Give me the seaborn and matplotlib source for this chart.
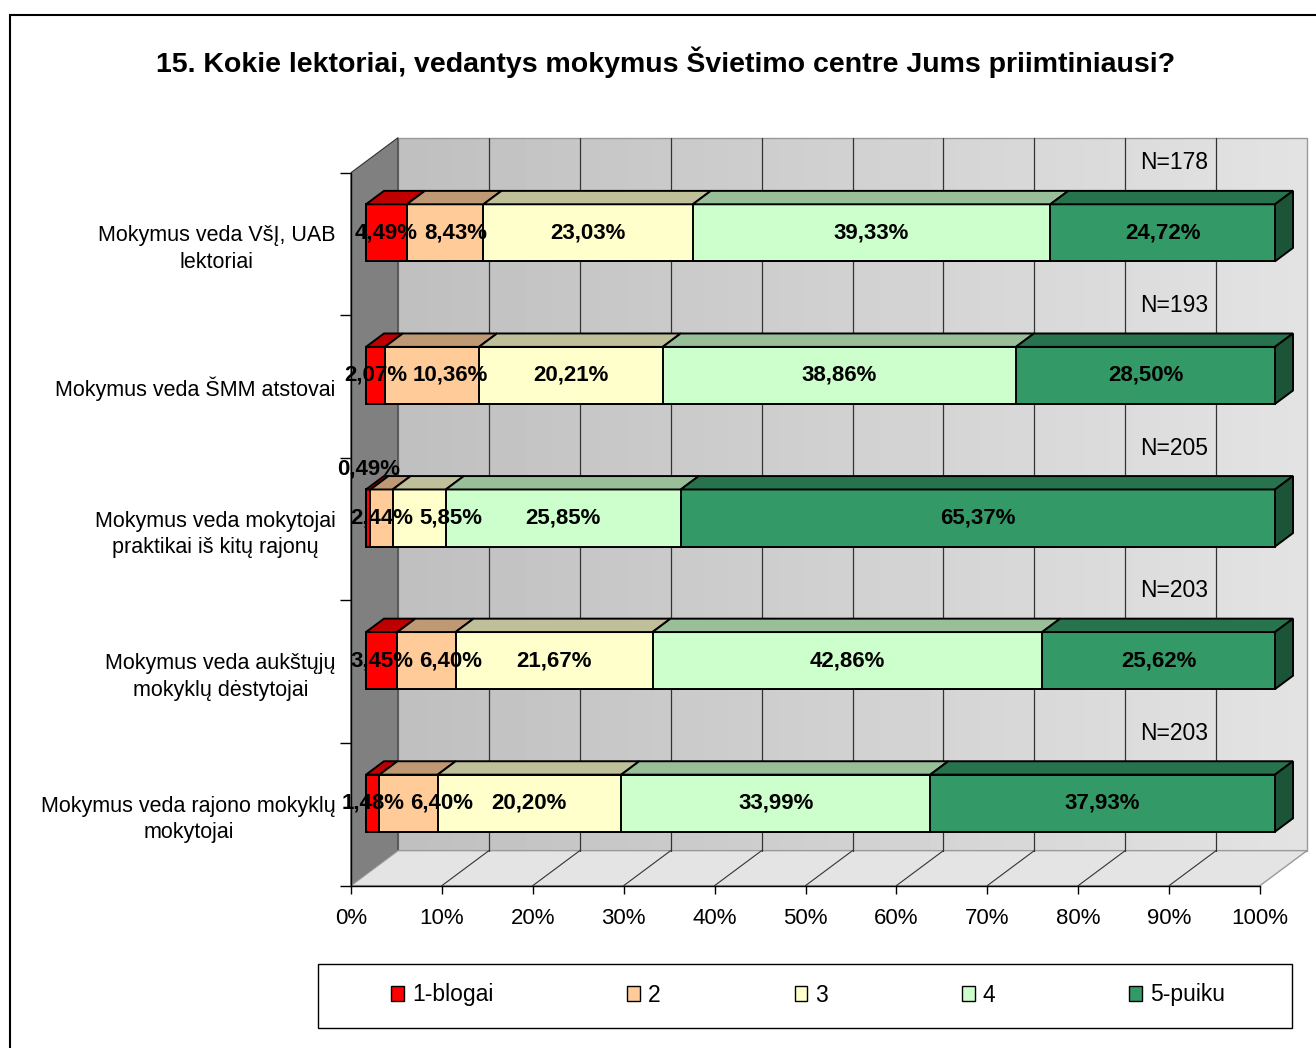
import numpy as np
import matplotlib
matplotlib.use('Agg')
import matplotlib.pyplot as plt
from matplotlib.patches import Polygon, Rectangle, Patch
import matplotlib.colors as mcolors
import seaborn as sns

categories = ['Mokymus veda VšĮ, UAB\nlektoriai',
              'Mokymus veda ŠMM atstovai',
              'Mokymus veda mokytojai\npraktikai iš kitų rajonų',
              'Mokymus veda aukštųjų\nmokyklų dėstytojai',
              'Mokymus veda rajono mokyklų\nmokytojai']
n_counts = [178, 193, 205, 203, 203]
levels = ['1-blogai', '2', '3', '4', '5-puiku']
v1 = [4.49, 2.07, 0.49, 3.45, 1.48]
v2 = [8.43, 10.36, 2.44, 6.40, 6.40]
v3 = [23.03, 20.21, 5.85, 21.67, 20.20]
v4 = [39.33, 38.86, 25.85, 42.86, 33.99]
v5 = [24.72, 28.50, 65.37, 25.62, 37.93]
colors = ['#ff0000', '#ffcc99', '#ffffcc', '#ccffcc', '#339966']
xticks = list(range(0, 101, 10))
title = '15. Kokie lektoriai, vedantys mokymus Švietimo centre Jums priimtiniausi?'

sns.set_style('white')
plt.rcParams['font.family'] = ['Liberation Sans', 'DejaVu Sans']
for key in ['text.color', 'axes.labelcolor', 'xtick.color', 'ytick.color']:
    plt.rcParams[key] = 'black'

# fake 3d: depth d goes 0 (front) .. 1 (back wall), bars sit between D0 and D1
DX, DY = 5.17, -0.2454
D0, D1 = 0.319, 0.702
BH = 0.4


def P(x, y, d):
    return (x + (d - D0) * DX, y + (d - D0) * DY)


def shade(c, f):
    r, g, b = mcolors.to_rgb(c)
    return (r * f, g * f, b * f)


vals = np.array([v1, v2, v3, v4, v5]).T
cum = vals.cumsum(axis=1)
left = cum - vals
n = len(categories)

fig = plt.figure(figsize=(13.16, 10.48), dpi=100)
ax = fig.add_axes([330 / 1316, 1 - 895 / 1048, 986 / 1316, 770 / 1048])
ax.patch.set_visible(False)

# back wall with gradient
bx0, by0 = P(0, -0.5, 1)
bx1, by1 = P(100, n - 0.5, 1)
grad = np.linspace(0.75, 0.89, 256).reshape(1, -1)
ax.imshow(grad, cmap='gray', vmin=0, vmax=1, extent=(bx0, bx1, by1, by0),
          aspect='auto', zorder=0)
ax.add_patch(Rectangle((bx0, by0), bx1 - bx0, by1 - by0, fill=False,
                       edgecolor='#999999', lw=1, zorder=1))
# left wall
ax.add_patch(Polygon([P(0, -0.5, 0), P(0, -0.5, 1), P(0, n - 0.5, 1), P(0, n - 0.5, 0)],
                     facecolor='#808080', edgecolor='#333333', lw=0.8, zorder=1))
# floor
ax.add_patch(Polygon([P(0, n - 0.5, 0), P(0, n - 0.5, 1), P(100, n - 0.5, 1), P(100, n - 0.5, 0)],
                     facecolor='#e4e4e4', edgecolor='#9a9a9a', lw=1, zorder=1))
for t in xticks[1:-1]:
    xs, ys = zip(P(t, -0.5, 1), P(t, n - 0.5, 1))
    ax.plot(xs, ys, color='#333333', lw=0.9, zorder=1.5)
    xs, ys = zip(P(t, n - 0.5, 0), P(t, n - 0.5, 1))
    ax.plot(xs, ys, color='#333333', lw=0.8, zorder=1.5)

# front faces, stacked by overdrawing from longest to shortest
for k in reversed(range(len(levels))):
    sns.barplot(x=cum[:, k], y=categories, order=categories, orient='h',
                color=colors[k], saturation=1, width=BH, edgecolor='black',
                linewidth=1.4, errorbar=None, ax=ax, zorder=3)

row_labels = []
for i in range(n):
    top = i - BH / 2
    for k in range(len(levels)):
        l, r = left[i, k], cum[i, k]
        ax.add_patch(Polygon([P(l, top, D0), P(r, top, D0), P(r, top, D1), P(l, top, D1)],
                             facecolor=shade(colors[k], 0.75), edgecolor='black',
                             lw=1.4, zorder=3, joinstyle='miter'))
    r = cum[i, -1]
    ax.add_patch(Polygon([P(r, top, D0), P(r, top + BH, D0), P(r, top + BH, D1), P(r, top, D1)],
                         facecolor=shade(colors[-1], 0.55), edgecolor='black',
                         lw=1.4, zorder=3, joinstyle='miter'))
    in_bar = []
    for k in range(len(levels)):
        v = vals[i, k]
        y = i - 0.345 if v < 1 else i
        t = ax.text(left[i, k] + v / 2, y, f'{v:.2f}'.replace('.', ',') + '%',
                    ha='center', va='center', fontsize=16, fontweight='bold', zorder=5)
        if v >= 1:
            in_bar.append(t)
    row_labels.append(in_bar)
    ax.text(88.9, i - 0.49, f'N={n_counts[i]}', ha='center', va='center',
            fontsize=16.5, zorder=5)

# axes lines on the front plane
x_front = -D0 * DX
y_front = -D0 * DY
for s in ['top', 'right']:
    ax.spines[s].set_visible(False)
ax.spines['left'].set_position(('data', x_front))
ax.spines['left'].set_bounds(-0.5 + y_front, n - 0.5 + y_front)
ax.spines['bottom'].set_position(('data', n - 0.5 + y_front))
ax.spines['bottom'].set_bounds(x_front, 100 + x_front)
for s in ['left', 'bottom']:
    ax.spines[s].set_color('black')
    ax.spines[s].set_linewidth(1)
    ax.spines[s].set_zorder(2)

ax.set_xticks([t + x_front for t in xticks], labels=[f'{t}%' for t in xticks])
ax.set_yticks([i - 0.5 + y_front for i in range(n + 1)], labels=[''] * (n + 1))
ax.set_yticks([i + y_front for i in range(n)], labels=categories, minor=True)
ax.tick_params(axis='x', length=6, width=1, direction='out', pad=10, labelsize=16,
               bottom=True)
ax.tick_params(axis='y', which='major', length=8, width=1, direction='out', left=True)
ax.tick_params(axis='y', which='minor', length=0, pad=11, labelsize=15.5)
for lbl in ax.get_yticklabels(minor=True):
    lbl.set_multialignment('center')
    lbl.set_linespacing(1.35)
ax.set_xlabel('')
ax.set_ylabel('')
ax.set_xlim(-3.96, 104.51)
ax.set_ylim(4.644, -0.756)

fig.text(666 / 1316, 1 - 62 / 1048, title, ha='center', va='center',
         fontsize=20.5, fontweight='bold')

# legend
handles = [Patch(facecolor=c, edgecolor='black', lw=1) for c in colors]
fig.legend(handles, levels, loc='center', bbox_to_anchor=(808 / 1316, 1 - 995 / 1048),
           ncol=5, frameon=False, fontsize=16.5, handlelength=0.55, handleheight=0.6,
           handletextpad=0.35, columnspacing=5.85)
fig.add_artist(Rectangle((318 / 1316, 1 - 1028 / 1048), 974 / 1316, 64 / 1048,
                         transform=fig.transFigure, fill=False, edgecolor='black', lw=1))
# outer chart border
fig.add_artist(Rectangle((10 / 1316, -0.05), 1.2, 1 - 15 / 1048 + 0.05,
                         transform=fig.transFigure, fill=False, edgecolor='black', lw=1.5))

# push crowded value labels to the right, like the original does
fig.canvas.draw()
renderer = fig.canvas.get_renderer()
px_per_unit = ax.transData.transform((1, 0))[0] - ax.transData.transform((0, 0))[0]
for labels in row_labels:
    prev_right = None
    for t in labels:
        bb = t.get_window_extent(renderer)
        if prev_right is not None and bb.x0 < prev_right + 6:
            shift = (prev_right + 6 - bb.x0) / px_per_unit
            x, y = t.get_position()
            t.set_position((x + shift, y))
            bb = t.get_window_extent(renderer)
        prev_right = bb.x1

fig.savefig('out.png', dpi=100)
